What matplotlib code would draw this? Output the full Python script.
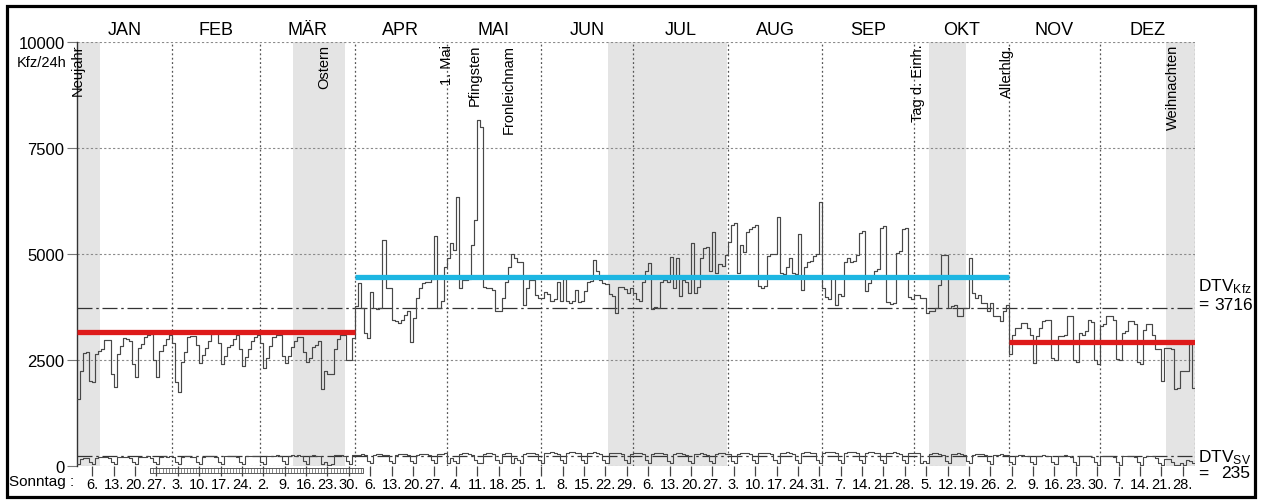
import numpy as np
import matplotlib
matplotlib.use("Agg")
import matplotlib.pyplot as plt
from matplotlib.patches import Rectangle
import matplotlib.transforms as mtransforms

plt.rcParams['font.family'] = ['Liberation Sans', 'DejaVu Sans']
plt.rcParams['mathtext.fontset'] = 'custom'
plt.rcParams['mathtext.rm'] = 'Liberation Sans'
plt.rcParams['mathtext.it'] = 'Liberation Sans'
plt.rcParams['mathtext.default'] = 'rm'

# ---------------- data ----------------
months = ["JAN", "FEB", "MÄR", "APR", "MAI", "JUN", "JUL", "AUG", "SEP", "OKT", "NOV", "DEZ"]
month_days = [31, 29, 31, 30, 31, 30, 31, 31, 30, 31, 30, 31]

kfz_jan = [1580, 2240, 2670, 2690, 2000, 1990,
           2630, 2710, 2750, 2960, 2970, 2160, 1870,
           2650, 2830, 3010, 2990, 2950, 2400, 2090,
           2780, 2880, 3050, 3100, 3110, 2500, 2090,
           2720, 2850, 2990, 3080]
kfz_feb = [2900, 1980, 1750,
           2450, 2700, 3050, 3060, 3060, 2850, 2420,
           2620, 2780, 2950, 3120, 3140, 2900, 2400,
           2600, 2800, 2860, 3000, 3100, 2750, 2350,
           2580, 2760, 2950, 3050, 3080]
kfz_mar = [2900, 2300,
           2550, 2820, 3050, 3080, 3100, 2600, 2430,
           2600, 2800, 2950, 3050, 3050, 2700, 2450,
           2550, 2800, 2850, 2950, 1810, 2240, 2160,
           2160, 2750, 3000, 3100, 3080, 2510, 2500,
           3020]
kfz_apr = [3770, 4310, 3730, 3140, 3020, 4100,
           3730, 3700, 3720, 5330, 4200, 4190, 3450,
           3410, 3380, 3450, 3550, 3650, 2930, 3490,
           3960, 4190, 4310, 4350, 4350, 4400, 5430,
           3720, 3900, 4700]
kfz_may = [4900, 5250, 5100, 6350,
           4200, 4390, 4390, 4400, 5210, 5800, 8170,
           7990, 4230, 4200, 4200, 4150, 3660, 3660,
           3960, 4350, 4700, 5000, 4900, 4820, 4820,
           3800, 4200, 4390, 4390, 4040, 3960]
kfz_jun = [3960, 4100, 4050, 3900, 3950, 4350, 3900, 4420, 3880, 3850,
           3900, 4160, 3870, 3900, 4120, 4330, 4360, 4860, 4590, 4390,
           4320, 4290, 4060, 4020, 3610, 4230, 4210, 4180, 4080, 4200]
kfz_jul = [4080, 3940, 3900, 4350, 4590, 4780, 3700, 3760, 3720, 4330,
           4380, 4340, 4940, 4200, 4900, 4000, 4380, 4330, 4080, 5250,
           4080, 4230, 4900, 5130, 5170, 4600, 5520, 4550, 4760, 4720,
           4980]
kfz_aug = [5290, 5680, 5720, 4550, 5210, 5050, 5520, 5600, 5640, 5680,
           4250, 4200, 4240, 4950, 4990, 5000, 5870, 4550, 4530, 4700,
           4900, 4560, 4540, 5480, 4160, 4700, 4800, 4840, 4960, 5000,
           6230]
kfz_sep = [4200, 3980, 3940, 4430, 3800, 4060, 4020, 4820, 4900, 4800,
           4840, 4980, 5500, 5540, 4120, 4310, 4470, 4600, 4650, 5620,
           5660, 3860, 3820, 3850, 5030, 5070, 5580, 5620, 3980, 3950]
kfz_oct = [4040, 4040, 3960, 3960, 3600, 3650, 3650, 3730, 4270, 4980,
           4980, 3730, 3770, 3800, 3530, 3530, 3730, 3730, 4900, 4080,
           3960, 4040, 3840, 3840, 3650, 3840, 3530, 3530, 3410, 3650,
           3800]
kfz_nov = [2630, 3100, 3260, 3260, 3380, 3380, 3260, 3100, 2440, 3060,
           3260, 3410, 3450, 3450, 2550, 2500, 3060, 3060, 3100, 3530,
           3530, 2500, 2450, 3140, 3100, 3180, 3450, 3400, 2500, 2400]
kfz_dec = [3300, 3350, 3530, 3530, 3450, 2520, 2500,
           3140, 3180, 3410, 3410, 3350, 2450, 2400,
           3200, 3340, 3340, 3100, 2750, 2750, 2000,
           2790, 2790, 2750, 1810, 1850, 2240, 2240,
           2240, 2870, 1850]

sv_jan = [40, 170, 190, 180, 90, 40,
          200, 210, 205, 215, 190, 95, 45,
          205, 215, 220, 210, 195, 100, 40,
          210, 220, 215, 225, 200, 90, 50,
          215, 225, 220, 230]
sv_feb = [205, 95, 45,
          215, 225, 230, 220, 210, 100, 50,
          220, 230, 235, 225, 215, 105, 45,
          225, 235, 230, 240, 220, 100, 50,
          230, 240, 235, 245, 225]
sv_mar = [105, 50,
          235, 245, 240, 250, 230, 110, 55,
          240, 250, 245, 255, 235, 110, 50,
          245, 250, 240, 230, 40, 100, 35,
          45, 250, 260, 255, 240, 115, 55,
          250]
sv_apr = [265, 270, 275, 255, 120, 60,
          260, 275, 280, 270, 255, 125, 60,
          265, 280, 285, 275, 260, 120, 65,
          270, 285, 290, 280, 265, 130, 70,
          275, 290, 295]
sv_may = [60, 180, 120, 70,
          280, 295, 300, 290, 270, 130, 65,
          70, 290, 305, 300, 280, 135, 70,
          285, 300, 310, 65, 200, 130, 70,
          290, 305, 310, 300, 280, 135]
sv_jun = [70,
          300, 315, 320, 310, 290, 140, 75,
          305, 320, 325, 315, 295, 140, 75,
          300, 315, 320, 310, 290, 135, 70,
          295, 310, 315, 305, 285, 130, 70,
          290]
sv_jul = [300, 305, 295, 280, 130, 70,
          285, 300, 305, 295, 275, 125, 65,
          280, 295, 300, 290, 270, 125, 65,
          280, 290, 300, 285, 270, 120, 60,
          285, 295, 300, 290]
sv_aug = [275, 125, 65,
          290, 300, 310, 300, 280, 130, 70,
          295, 310, 315, 305, 285, 130, 70,
          300, 315, 320, 310, 290, 135, 70,
          300, 320, 325, 315, 295, 135, 75]
sv_sep = [305, 320, 330, 320, 300, 140, 75,
          310, 325, 330, 320, 300, 140, 75,
          305, 320, 330, 315, 295, 135, 70,
          300, 315, 325, 310, 290, 135, 70,
          295, 310]
sv_oct = [315, 305, 60, 120, 60,
          280, 295, 300, 290, 270, 125, 60,
          275, 290, 295, 285, 265, 120, 60,
          270, 280, 290, 280, 260, 115, 55,
          260, 270, 275, 265, 250]
sv_nov = [90, 40,
          240, 250, 255, 245, 230, 100, 40,
          235, 245, 250, 240, 225, 95, 40,
          230, 245, 250, 240, 220, 95, 35,
          230, 240, 245, 235, 220, 90, 35]
sv_dec = [225, 240, 245, 235, 215, 90, 35,
          225, 235, 240, 230, 215, 90, 35,
          220, 230, 235, 225, 200, 80, 30,
          170, 160, 90, 30, 30, 60, 25,
          130, 120, 70]

dtv_kfz = 3716
dtv_sv = 235

# seasonal means: start day, end day, value
mean_start = [0, 91, 305]
mean_end = [91, 305, 366]
mean_value = [3160, 4460, 2930]
mean_color = ["#de1a1a", "#1db6e2", "#de1a1a"]

# shaded holiday periods (day of year)
shade_start = [0, 70.7, 173.8, 278.9, 356.5]
shade_end = [7.5, 87.7, 212.8, 291.0, 366]

holiday_names = ["Neujahr", "Ostern", "1. Mai", "Pfingsten", "Fronleichnam",
                 "Tag d. Einh.", "Allerhlg.", "Weihnachten"]
holiday_day = [0.4, 80.9, 121.0, 130.3, 141.2, 275.3, 304.3, 358.8]

sunday_labels = ["6.", "13.", "20.", "27.", "3.", "10.", "17.", "24.",
                 "2.", "9.", "16.", "23.", "30.", "6.", "13.", "20.", "27.",
                 "4.", "11.", "18.", "25.", "1.", "8.", "15.", "22.", "29.",
                 "6.", "13.", "20.", "27.", "3.", "10.", "17.", "24.", "31.",
                 "7.", "14.", "21.", "28.", "5.", "12.", "19.", "26.",
                 "2.", "9.", "16.", "23.", "30.", "7.", "14.", "21.", "28."]

yticks = [0, 2500, 5000, 7500, 10000]

# ---------------- figure ----------------
W, H = 1261, 502
fig = plt.figure(figsize=(W / 100, H / 100), dpi=100)
ax = fig.add_axes([77 / W, 35 / H, 1118 / W, 424 / H])

kfz = np.array(kfz_jan + kfz_feb + kfz_mar + kfz_apr + kfz_may + kfz_jun +
               kfz_jul + kfz_aug + kfz_sep + kfz_oct + kfz_nov + kfz_dec, float)
sv = np.array(sv_jan + sv_feb + sv_mar + sv_apr + sv_may + sv_jun +
              sv_jul + sv_aug + sv_sep + sv_oct + sv_nov + sv_dec, float)
ndays = sum(month_days)
days = np.arange(ndays + 1)

month_edges = np.concatenate([[0], np.cumsum(month_days)])

ax.set_xlim(0, ndays)
ax.set_ylim(0, 10000)

for s, e in zip(shade_start, shade_end):
    ax.axvspan(s, e, color="#e4e4e4", lw=0, zorder=0)

for yv in yticks:
    ax.axhline(yv, color="#8a8a8a", lw=0.8, ls=(0, (2, 2)), zorder=1)
for xe in month_edges[1:]:
    ax.axvline(xe, color="#555555", lw=0.9, ls=(0, (1.5, 2)), zorder=1)

ax.axhline(dtv_kfz, color="#333333", lw=0.9, ls=(0, (12, 3, 2, 3)), zorder=2)
ax.axhline(dtv_sv, color="#333333", lw=0.9, ls=(0, (12, 3, 2, 3)), zorder=2)

ax.step(days, np.append(kfz, kfz[-1]), where="post", color="#484848", lw=0.85, zorder=3)
ax.step(days, np.append(sv, sv[-1]), where="post", color="#484848", lw=0.8, zorder=3)

for s, e, v, c in zip(mean_start, mean_end, mean_value, mean_color):
    ax.plot([s, e], [v, v], color=c, lw=3.8, solid_capstyle="butt", zorder=4)

# spines
for sp in ["top", "right", "bottom"]:
    ax.spines[sp].set_visible(False)
ax.spines["left"].set_color("#333333")
ax.spines["left"].set_linewidth(1.0)

# y ticks
ax.set_yticks(yticks)
ax.set_yticklabels([str(v) for v in yticks], fontsize=12)
ax.tick_params(axis="y", length=7, width=0.8, color="#777777", pad=2)

# x ticks at Sundays
sunday_pos = np.arange(5, ndays, 7)
ax.set_xticks(sunday_pos)
ax.set_xticklabels(sunday_labels, fontsize=10.5)
ax.tick_params(axis="x", length=7, width=0.9, color="#444444", pad=1.0)

# hatched marker bar under the axis
ax.add_patch(Rectangle((23.9, -165), 69.7, 118, fill=False, edgecolor="#444444",
                       lw=0.6, clip_on=False, zorder=5))
ax.vlines(np.arange(24, 94), -165, -47, color="#555555", lw=0.5, clip_on=False, zorder=5)

# month labels
trans = mtransforms.blended_transform_factory(ax.transData, ax.transAxes)
for i, m in enumerate(months):
    xc = (month_edges[i] + month_edges[i + 1]) / 2
    ax.text(xc, 1.030, m, transform=trans, ha="center", va="center", fontsize=13)

# holiday labels
for name, d in zip(holiday_names, holiday_day):
    ax.text(d, 9960, name, rotation=90, ha="center", va="top", fontsize=10.5, zorder=6)

# left/right annotations
fig.text(67 / W, 1 - 63 / H, "Kfz/24h", ha="right", va="center", fontsize=10.5)
fig.text(9 / W, 1 - 482 / H, "Sonntag :", ha="left", va="center", fontsize=11)

fig.text(1198 / W, 1 - 287 / H, r"DTV$_{\mathregular{Kfz}}$", ha="left", va="center", fontsize=12.5)
fig.text(1198 / W, 1 - 305 / H, "=", ha="left", va="center", fontsize=12.5)
fig.text(1253 / W, 1 - 305 / H, str(dtv_kfz), ha="right", va="center", fontsize=12.5)
fig.text(1198 / W, 1 - 458 / H, r"DTV$_{\mathregular{SV}}$", ha="left", va="center", fontsize=12.5)
fig.text(1198 / W, 1 - 474 / H, "=", ha="left", va="center", fontsize=12.5)
fig.text(1250 / W, 1 - 474 / H, str(dtv_sv), ha="right", va="center", fontsize=12.5)

# outer frame
fig.patches.append(Rectangle((6.7 / W, 4 / H), (1255 - 6.7) / W, (H - 6.7 - 4) / H,
                             transform=fig.transFigure, fill=False,
                             edgecolor="black", lw=2.3, zorder=10))

fig.savefig("out.png", dpi=100, facecolor="white")
